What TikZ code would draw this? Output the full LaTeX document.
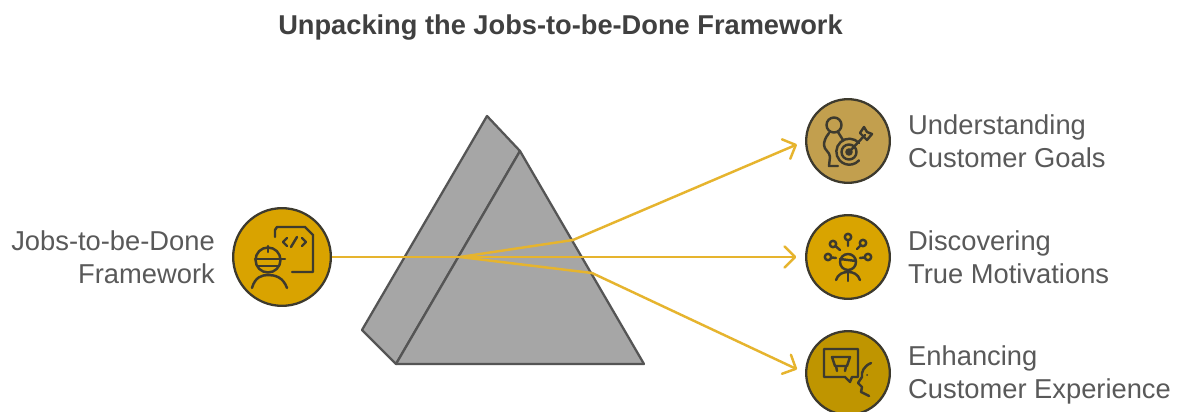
\documentclass[tikz,border=0pt]{standalone}
\usepackage{fontspec}
\setmainfont{Liberation Sans}
\usepackage{tikz}
\usetikzlibrary{arrows.meta,calc}
\definecolor{beamgold}{HTML}{E6B42E}
\definecolor{prismgrey}{HTML}{A6A6A6}
\definecolor{prismline}{HTML}{555555}
\definecolor{labelgrey}{HTML}{595959}
\definecolor{titlegrey}{HTML}{404040}
\definecolor{icongrey}{HTML}{3D3A2E}
\definecolor{sourcefill}{HTML}{D9A300}
\definecolor{goalfill}{HTML}{C29F4E}
\definecolor{motivefill}{HTML}{D9A400}
\definecolor{experiencefill}{HTML}{BF9500}
\tikzset{
  badge/.style={circle, draw=icongrey, line width=1.3pt, inner sep=0pt, minimum size=47.6pt},
  prism/.style={fill=prismgrey, draw=prismline, line width=1.3pt, line join=round},
  beam/.style={draw=beamgold, line width=1.4pt},
  ray/.style={beam, -{Straight Barb[length=6pt,width=12pt,round]}, shorten >=5pt},
  icon/.style={draw=icongrey, line width=1.4pt, line cap=round, line join=round},
  label/.style={text=labelgrey, font=\fontsize{15.55}{18.8}\selectfont},
}
\begin{document}
\begin{tikzpicture}[x=0.02cm, y=-0.02cm]
\useasboundingbox (0,0) rectangle (1177,412);
\fill[white] (0,0) rectangle (1177,412);
\node[text=titlegrey, font=\fontsize{15.5}{18}\bfseries] (title) at (560.5,28) {Unpacking the Jobs-to-be-Done Framework};
\filldraw[prism] (487,116) -- (520,151) -- (396,364) -- (362,330) -- cycle;
\filldraw[prism] (520,151) -- (644,364) -- (396,364) -- cycle;
\node[badge, fill=sourcefill, minimum size=55.6pt] (source) at (282,257) {};
\node[badge, fill=goalfill] (goal) at (848,141) {};
\node[badge, fill=motivefill] (motive) at (848,257) {};
\node[badge, fill=experiencefill] (experience) at (848,373) {};
\node[label, align=right, anchor=east] (sourcetext) at (221,257) {Jobs-to-be-Done\\Framework};
\node[label, align=left, anchor=west] (goaltext) at (902,141) {Understanding\\Customer Goals};
\node[label, align=left, anchor=west] (motivetext) at (902,257) {Discovering\\True Motivations};
\node[label, align=left, anchor=west] (experiencetext) at (902,375) {Enhancing\\Customer Experience};
\coordinate (split) at (460,257);
\coordinate (exitup) at (573,240);
\coordinate (exitdown) at (592,273);
\draw[beam] (source) -- (split);
\draw[beam] (split) -- (exitup);
\draw[beam] (split) -- (exitdown);
\draw[ray] (exitup) -- (goal.west);
\draw[ray] (split) -- (motive.west);
\draw[ray] (exitdown) -- (experience.west);
% source icon
\draw[icon] (275,237) -- (275,230) -- ++(2,-3) -- (305,227) -- (313,235) -- (313,272) -- (292,272);
\draw[icon] (287,238) -- (283,242) -- (287,246) (291,247) -- (297,237) (302,238) -- (306,242) -- (302,246);
\draw[icon] (268,260) circle [radius=12.5];
\draw[icon] (255,259) -- (285,259);
\draw[icon] (258,266) -- (279,266);
\draw[icon] (268,246) -- (268,252);
\draw[icon] (252,288) .. controls (255,277) and (262,275) .. (268,275) .. controls (275,275) and (283,277) .. (287,288);
% goal icon
\draw[icon] (834,125) circle [radius=7.5];
\draw[icon] (829,133) .. controls (825,138) and (824,142) .. (824,145) .. controls (824,150) and (830,152) .. (830,157) -- (829,166) -- (838,166);
\draw[icon] (838,132) -- (843,140);
\draw[icon] (859,143) arc [start angle=-42, end angle=-318, radius=13];
\draw[icon] (849,152) circle [radius=7.5];
\draw[icon] (849,152) circle [radius=2.5];
\draw[icon] (849,152) -- (865,135);
\draw[icon] (860,133) -- (864,127) -- (867,132) -- (872,134) -- (867,140) -- cycle;
% motive icon
\draw[icon] (848,262) circle [radius=8];
\draw[icon] (840,259) -- (856,261);
\draw[icon] (836,280) .. controls (838,274) and (843,272) .. (848,272) .. controls (853,272) and (858,274) .. (860,280);
\draw[icon] (848,272) -- (848,281);
\foreach \px/\py/\qx/\qy in {848/237/848/246, 833/244/840/250, 863/243/857/249, 828/257/836/258, 868/257/860/258}
  \draw[icon] (\px,\py) circle [radius=3.2] (\qx,\qy) -- ($(\px,\py)!0.45!(\qx,\qy)$);
% experience icon
\draw[icon] (824,349) -- (858,349) -- (858,377) -- (852,377) -- (850,382) -- (845,377) -- (824,377) -- cycle;
\draw[icon] (832,357) -- (850,357) -- (847,366) -- (835,366) -- cycle;
\draw[icon] (836,366) -- (837,371) (846,366) -- (845,371);
\draw[icon] (871,363) .. controls (864,366) and (861,372) .. (862,377) -- (858,383) -- (862,387) -- (861,392) -- (869,396);
\fill[icongrey] (867,375) circle [radius=1];
\end{tikzpicture}
\end{document}
